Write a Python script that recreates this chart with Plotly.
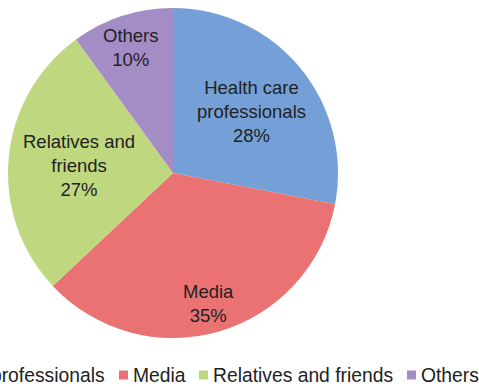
import plotly.graph_objects as go

# Sources of information, share of respondents (%)
sources = ["Health care professionals", "Media", "Relatives and friends", "Others"]
shares = [28, 35, 27, 10]
# Label text shown inside each slice (line breaks included)
slice_text = ["Health care<br>professionals", "Media", "Relatives and<br>friends", "Others"]
colors = ["#74a0d7", "#ea7273", "#bfd880", "#a48cc4"]

W, H = 479, 387
cx, cy, R = 173, 173, 165  # pie centre / radius in pixels

fig = go.Figure()
fig.add_trace(go.Pie(
    labels=sources,
    values=shares,
    sort=False,
    direction="clockwise",
    rotation=0,
    marker=dict(colors=colors, line=dict(width=0)),
    textinfo="none",
    hoverinfo="label+percent",
    showlegend=False,
    domain=dict(x=[(cx - R) / W, (cx + R) / W],
                y=[(H - cy - R) / H, (H - cy + R) / H]),
))

font = dict(family="Liberation Sans, Arial, sans-serif", size=18.5, color="#222222")

# Slice label centres, in pixels from the top-left corner
label_pos = [(251, 112), (208, 303), (79, 165), (131, 47)]
annotations = []
shapes = []
for txt, v, (px, py) in zip(slice_text, shares, label_pos):
    annotations.append(dict(
        x=px / W, y=1 - py / H, xref="paper", yref="paper",
        text=f"{txt}<br>{v}%", showarrow=False, font=font,
        xanchor="center", yanchor="middle", align="center",
    ))

# Legend row along the bottom (wider than the page, runs off the left edge)
legend_font = dict(family="Liberation Sans, Arial, sans-serif", size=19.3, color="#222222")
legend_text_x = [-113, 133, 213, 421]  # left edge of each entry's text, px
legend_y = 375
for name, col, tx in zip(sources, colors, legend_text_x):
    sx0 = tx - 14
    shapes.append(dict(
        type="rect", xref="paper", yref="paper",
        x0=sx0 / W, x1=(sx0 + 9) / W,
        y0=1 - (legend_y + 4.5) / H, y1=1 - (legend_y - 4.5) / H,
        fillcolor=col, line=dict(width=0),
    ))
    annotations.append(dict(
        x=(tx - 2) / W, y=1 - legend_y / H, xref="paper", yref="paper",
        text=name, showarrow=False, font=legend_font,
        xanchor="left", yanchor="middle",
    ))

fig.update_layout(
    width=W, height=H,
    margin=dict(l=0, r=0, t=0, b=0),
    paper_bgcolor="white",
    plot_bgcolor="white",
    annotations=annotations,
    shapes=shapes,
)

fig.write_html("out.html")
